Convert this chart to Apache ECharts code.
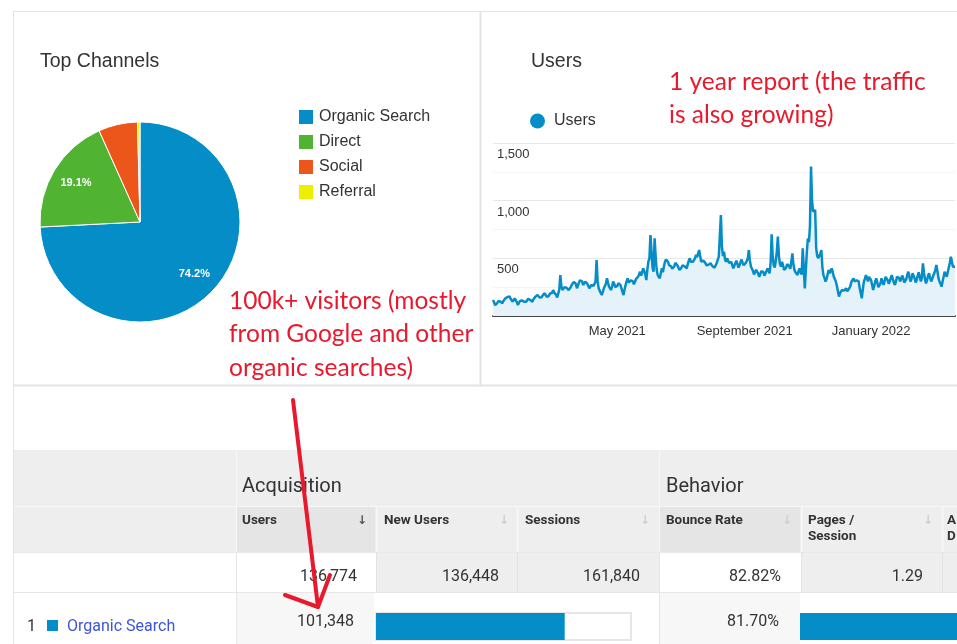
<!DOCTYPE html>
<html><head><meta charset="utf-8">
<script src="https://cdn.jsdelivr.net/npm/echarts@6/dist/echarts.min.js"></script>
<style>html,body{margin:0;padding:0;background:#fff}#c{width:957px;height:644px}</style>
</head><body><div id="c"></div>
<script>
// ---------- data ----------
const channelNames = ['Organic Search', 'Direct', 'Social', 'Referral'];
const channelShares = [74.2, 19.1, 6.3, 0.4];

const startDate = '2021-01-01';
const usersJan2021 = [139,120,95,81,110,128,139,125,118,110,130,145,153,140,165,182,170,150,135,124,140,153,145,120,95,110,130,139,135,128,124];
const usersFeb2021 = [130,124,140,150,153,138,128,124,145,160,168,175,182,170,160,153,162,180,185,197,180,165,153,175,195,210,200,225];
const usersMar2021 = [205,190,182,160,153,230,355,260,225,240,250,254,245,232,225,228,250,270,283,295,312,280,240,255,290,310,327,300,269,285,298];
const usersApr2021 = [298,280,260,240,250,270,254,260,280,300,486,300,240,220,200,182,210,240,255,280,327,290,254,240,225,260,298,280,250,240];
const usersMay2021 = [260,285,298,270,240,210,182,230,269,300,327,290,280,310,327,300,275,295,320,310,340,360,384,350,380,413,390,360,312,400,471];
const usersJun2021 = [500,702,560,420,384,673,520,400,355,340,327,370,413,380,430,470,490,500,470,440,457,430,410,399,430,460,471,440,420,400];
const usersJul2021 = [384,420,440,457,430,420,413,450,480,500,470,486,470,460,500,529,510,540,572,520,471,460,480,486,460,440,428,445,450,457,440];
const usersAug2021 = [430,413,420,440,460,471,514,700,875,600,520,557,490,470,500,480,460,450,470,440,413,430,460,480,450,420,440,470,490,460,440];
const usersSep2021 = [430,460,480,500,572,480,430,413,390,360,380,400,413,370,340,360,390,400,380,350,360,390,413,400,370,460,708,520,442,420];
const usersOct2021 = [480,560,688,520,450,430,470,440,400,384,420,450,460,430,410,470,543,450,400,380,370,355,390,413,380,360,587,420,240,400,560];
const usersNov2021 = [673,640,780,1295,1000,905,890,919,587,520,500,500,540,572,420,355,330,298,320,360,399,370,390,413,380,340,355,300,260,254];
const usersDec2021 = [168,200,211,225,240,220,230,240,215,225,240,260,298,310,327,300,290,310,327,300,240,200,153,230,298,320,355,330,300,340,355];
const usersJan2022 = [310,270,225,260,300,327,290,250,240,280,327,300,269,300,340,355,310,280,300,330,355,320,290,269,300,340,355,330,300,320,350];
const usersFeb2022 = [330,290,283,320,360,384,340,300,320,370,384,330,290,310,350,380,340,300,330,457,380,320,283,310,350,370,330,300];
const usersMar2022 = [320,350,370,400,442,390,330,300,280,254,300,340,384,360,341,380,420,460,514,470,428,440,428];

const xLabelDates = ['2021-05-01', '2021-09-01', '2022-01-01'];
const xLabelTexts = ['May 2021', 'September 2021', 'January 2022'];
const yLabelValues = [500, 1000, 1500];

const groupHeaders = ['Acquisition', 'Behavior'];
const columnHeaders = ['Users', 'New Users', 'Sessions', 'Bounce Rate', 'Pages /', 'A'];
const columnHeaders2 = ['', '', '', '', 'Session', 'D'];
const totalsRow = ['136,774', '136,448', '161,840', '82.82%', '1.29'];
const rowChannel = 'Organic Search';
const rowUsers = '101,348';
const rowBounce = '81.70%';
const newUsersShare = [74];
const pagesShare = [74];

const noteLeft = ['100k+ visitors (mostly', 'from Google and other', 'organic searches)'];
const noteRight = ['1 year report (the traffic', 'is also growing)'];

// ---------- build ----------
const users = [].concat(usersJan2021, usersFeb2021, usersMar2021, usersApr2021, usersMay2021, usersJun2021,
  usersJul2021, usersAug2021, usersSep2021, usersOct2021, usersNov2021, usersDec2021, usersJan2022, usersFeb2022, usersMar2022);
const t0 = Date.parse(startDate + 'T00:00:00Z');
const dates = users.map((_, i) => new Date(t0 + i * 86400000).toISOString().slice(0, 10));

const RED = '#e8192c';
const BLUE = '#058dc7';
const pieColors = ['#058dc7', '#50b432', '#ed561b', '#edef00'];
const pieData = channelNames.map((n, i) => ({ name: n, value: channelShares[i], itemStyle: { color: pieColors[i] } }));
const pieLabelData = channelNames.map((n, i) => ({ name: n, value: channelShares[i], label: { show: channelShares[i] > 10 } }));

function R(x, y, w, h, fill, z) { return { type: 'rect', shape: { x, y, width: w, height: h }, style: { fill }, z: z || 0, silent: true }; }
function L(x1, y1, x2, y2, stroke, w, z) { return { type: 'line', shape: { x1, y1, x2, y2 }, style: { stroke, lineWidth: w || 1 }, z: z || 1, silent: true }; }
function T(x, y, text, font, fill, align, z) {
  return { type: 'text', x, y, z: z || 5, silent: true,
    style: { text, font, fill, align: align || 'left', verticalAlign: 'middle', textAlign: align || 'left', textVerticalAlign: 'middle' } };
}

const gEls = [];
// panel borders
gEls.push(L(13, 11.5, 957, 11.5, '#e4e4e4', 1));
gEls.push(L(13.5, 11, 13.5, 644, '#e4e4e4', 1));
gEls.push(L(480.5, 11, 480.5, 385, '#e4e4e4', 2));
gEls.push(L(13, 385.5, 957, 385.5, '#e4e4e4', 2));
// table header
gEls.push(R(14, 450, 943, 102, '#eeeeee'));
gEls.push(R(237, 507, 139, 45, '#e5e5e5'));
gEls.push(R(660, 507, 141, 45, '#e5e5e5'));
gEls.push(L(236.5, 450, 236.5, 552, '#f7f7f7', 1));
gEls.push(L(659.5, 450, 659.5, 552, '#f7f7f7', 1));
gEls.push(L(14, 506.5, 957, 506.5, '#f7f7f7', 1));
[376.5, 517.5, 801.5, 942.5].forEach(x => gEls.push(L(x, 507, x, 552, '#f7f7f7', 2)));
// totals row
gEls.push(R(377, 552, 140, 40, '#eeeeee'));
gEls.push(R(518, 552, 141, 40, '#eeeeee'));
gEls.push(R(802, 552, 140, 40, '#eeeeee'));
gEls.push(R(943, 552, 14, 40, '#eeeeee'));
gEls.push(L(14, 592.5, 957, 592.5, '#e6e6e6', 1));
gEls.push(L(14, 552.5, 957, 552.5, '#e9e9e9', 1));
[376.5, 517.5, 801.5, 942.5].forEach(x => gEls.push(L(x, 552, x, 592, '#e2e2e2', 1)));
gEls.push(L(236.5, 552, 236.5, 644, '#e6e6e6', 1));
gEls.push(L(659.5, 552, 659.5, 644, '#e6e6e6', 1));
// row 1 backgrounds
gEls.push(R(237, 593, 137, 51, '#f7f7f7'));
gEls.push(R(660, 593, 140, 51, '#f7f7f7'));

// texts
gEls.push(T(242, 487, groupHeaders[0], '20px Roboto', '#333'));
gEls.push(T(666, 487, groupHeaders[1], '20px Roboto', '#333'));
const headX = [242, 384, 525, 666, 808, 947];
columnHeaders.forEach((h, i) => gEls.push(T(headX[i], 521, h, 'bold 13.5px Roboto', '#333')));
columnHeaders2.forEach((h, i) => { if (h) gEls.push(T(headX[i], 537, h, 'bold 13.5px Roboto', '#333')); });
const arrowX = [362, 504, 645, 787, 928];
arrowX.forEach((x, i) => gEls.push(T(x, 521, '\u2193', 'bold 12px "DejaVu Sans"', i === 0 ? '#555' : '#cfcfcf', 'center')));
const totX = [357, 499, 640, 781, 923];
totalsRow.forEach((v, i) => gEls.push(T(totX[i], 577, v, '16px Roboto', '#333', 'right')));
gEls.push(T(27, 627, '1', '16px Roboto', '#333'));
gEls.push(R(47, 620, 11, 11, BLUE, 2));
gEls.push(T(67, 627, rowChannel, '16px Roboto', '#3d55d8'));
gEls.push(T(354, 622, rowUsers, '16px Roboto', '#333', 'right'));
gEls.push(T(779, 622, rowBounce, '16px Roboto', '#333', 'right'));

// red annotations
noteLeft.forEach((s, i) => gEls.push(T(229, 301 + i * 33.5, s, '24.5px Lato', RED, 'left', 50)));
noteRight.forEach((s, i) => gEls.push(T(669, 82 + i * 33, s, '24.5px Lato', RED, 'left', 50)));
// red arrow
gEls.push({ type: 'polyline', z: 100, silent: true, shape: { points: [[293, 400], [318, 607]] },
  style: { stroke: RED, lineWidth: 4, lineCap: 'round', fill: null } });
gEls.push({ type: 'polyline', z: 100, silent: true, shape: { points: [[285, 595], [318, 607], [330, 575]] },
  style: { stroke: RED, lineWidth: 4, lineCap: 'round', lineJoin: 'round', fill: null } });

const chart = echarts.init(document.getElementById('c'), null, { renderer: 'canvas' });
chart.setOption({
  animation: false,
  backgroundColor: '#fff',
  textStyle: { fontFamily: 'Arial, "Liberation Sans", sans-serif' },
  title: [
    { text: 'Top Channels', left: 40, top: 52, padding: 0, textStyle: { fontSize: 19.5, fontWeight: 'normal', color: '#333', fontFamily: 'Arial' } },
    { text: 'Users', left: 531, top: 52, padding: 0, textStyle: { fontSize: 19.5, fontWeight: 'normal', color: '#333', fontFamily: 'Arial' } }
  ],
  legend: [
    { data: channelNames, orient: 'vertical', left: 297, top: 108, padding: 0, icon: 'rect', itemWidth: 16, itemHeight: 16, itemGap: 7,
      selectedMode: false, textStyle: { fontSize: 16, color: '#333', fontFamily: 'Arial', lineHeight: 16, padding: [0, 0, 0, 0] } },
    { data: ['Users'], left: 530, top: 113, padding: 0, icon: 'circle', itemWidth: 15, itemHeight: 15,
      selectedMode: false, textStyle: { fontSize: 16, color: '#333', fontFamily: 'Arial', padding: [0, 0, 0, 4] } }
  ],
  grid: [
    { left: 493, right: 2, top: 143, height: 173 },
    { left: 376, top: 613, width: 255, height: 27 },
    { left: 800, top: 613, width: 300, height: 27, outerBoundsMode: 'none' }
  ],
  xAxis: [
    { type: 'category', gridIndex: 0, data: dates, boundaryGap: false,
      axisLine: { lineStyle: { color: '#444', width: 2 } }, axisTick: { show: false },
      axisLabel: { interval: (i, v) => xLabelDates.indexOf(v) >= 0, formatter: v => xLabelTexts[xLabelDates.indexOf(v)] || '',
        color: '#333', fontSize: 13, margin: 9, fontFamily: 'Arial' },
      splitLine: { show: false } },
    { type: 'value', gridIndex: 1, min: 0, max: 100, show: false },
    { type: 'value', gridIndex: 2, min: 0, max: 100, show: false }
  ],
  yAxis: [
    { type: 'value', gridIndex: 0, min: 0, max: 1500, interval: 250,
      axisLine: { show: false }, axisTick: { show: false },
      axisLabel: { inside: true, margin: 4, verticalAlign: 'top', padding: [5, 0, 0, 0], color: '#333', fontSize: 13, fontFamily: 'Arial',
        formatter: v => yLabelValues.indexOf(v) >= 0 ? v.toLocaleString('en-US') : '' },
      splitLine: { lineStyle: { color: ['#e8e8e8', '#f4f4f4'], width: 1 } } },
    { type: 'category', gridIndex: 1, data: [rowChannel], show: false },
    { type: 'category', gridIndex: 2, data: [rowChannel], show: false }
  ],
  series: [
    { type: 'pie', name: 'Top Channels', center: [140, 222], radius: [0, 100], startAngle: 90, clockwise: true,
      data: pieData, label: { show: false }, labelLine: { show: false }, silent: true,
      itemStyle: { borderColor: '#fff', borderWidth: 1 } },
    { type: 'pie', name: 'labels', center: [140, 222], radius: [44, 100], startAngle: 90, clockwise: true,
      data: pieLabelData, silent: true, legendHoverLink: false,
      itemStyle: { color: 'rgba(0,0,0,0)' },
      label: { position: 'inside', color: '#fff', fontSize: 11, fontWeight: 'bold', fontFamily: 'Arial',
        formatter: p => p.value.toFixed(1) + '%' },
      labelLine: { show: false } },
    { type: 'line', name: 'Users', xAxisIndex: 0, yAxisIndex: 0, data: users, showSymbol: false, symbol: 'circle',
      itemStyle: { color: BLUE }, lineStyle: { color: BLUE, width: 2.5 }, areaStyle: { color: '#e6f2f9', opacity: 1 } },
    { type: 'bar', name: 'New Users share', xAxisIndex: 1, yAxisIndex: 1, data: newUsersShare, barWidth: 27, silent: true,
      showBackground: true, backgroundStyle: { color: '#fff', borderColor: '#e6e6e6', borderWidth: 2 },
      itemStyle: { color: BLUE } },
    { type: 'bar', name: 'Pages share', xAxisIndex: 2, yAxisIndex: 2, data: pagesShare, barWidth: 27, silent: true,
      itemStyle: { color: BLUE } }
  ],
  graphic: { elements: gEls }
});
</script></body></html>
